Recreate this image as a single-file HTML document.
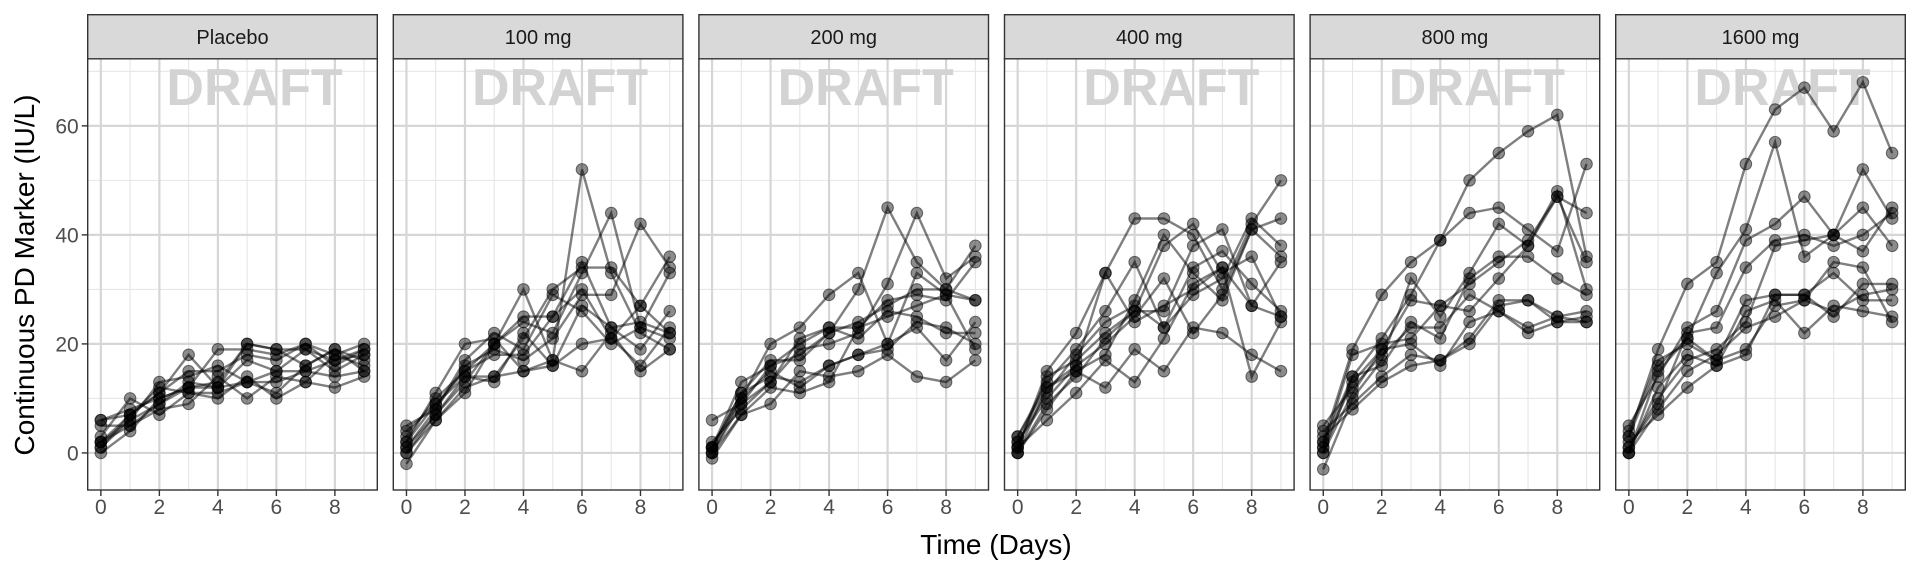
<!DOCTYPE html>
<html><head><meta charset="utf-8"><style>
html,body{margin:0;padding:0;background:#fff;}
svg{display:block;font-family:"Liberation Sans",Arial,sans-serif;}
</style></head><body>
<svg id="chart" width="1920" height="576" viewBox="0 0 1920 576" xmlns="http://www.w3.org/2000/svg">
<rect width="1920" height="576" fill="#fff"/>
<text x="0" y="0" transform="translate(34,275) rotate(-90)" text-anchor="middle" font-size="28" fill="#000">Continuous PD Marker (IU/L)</text>
<text x="996" y="554" text-anchor="middle" font-size="28" fill="#000">Time (Days)</text>
<g id="panels"></g>
</svg>
<script>
const panelNames = ["Placebo","100 mg","200 mg","400 mg","800 mg","1600 mg"];
const times = [0,1,2,3,4,5,6,7,8,9];
const xTicks = [0,2,4,6,8];
const yTicks = [0,20,40,60];
const placebo = [
[2,5,9,12,13,20,19,19,17,18],[6,7,11,18,12,13,15,15,14,15],[0,4,10,12,19,19,18,20,18,20],
[1,6,13,14,16,13,11,16,19,17],[3,10,7,11,10,14,10,13,12,14],[2,7,11,15,15,18,17,20,16,19],
[5,5,8,9,14,10,14,13,18,16],[1,7,12,11,11,13,13,15,17,19],[2,6,9,13,12,17,15,19,15,18],
[6,8,10,12,12,20,19,16,19,15]];
const dose100 = [
[4,9,15,20,30,17,52,33,22,19],[0,7,13,20,24,22,33,44,23,33],[1,8,16,19,17,21,29,29,42,34],
[2,11,20,21,15,16,20,21,16,23],[-2,6,12,14,21,30,34,34,27,22],[3,10,15,18,18,25,35,23,24,22],
[1,7,14,14,15,17,15,22,15,19],[5,8,17,22,19,29,26,20,23,21],[0,6,11,20,25,25,30,21,27,36],
[2,9,14,13,22,16,27,23,19,26]];
const dose200 = [
[6,9,13,19,20,22,31,44,32,36],[1,13,16,18,22,30,45,35,30,38],[-1,7,9,15,14,15,18,14,13,17],
[0,10,20,23,29,33,20,33,29,28],[1,11,17,17,22,24,27,30,30,28],[2,8,13,21,23,21,26,25,22,22],
[1,10,15,12,16,18,19,24,23,20],[0,9,16,20,23,23,28,29,28,35],[1,11,14,13,16,18,20,23,17,24],
[0,7,12,11,13,23,25,27,29,19]];
const dose400 = [
[3,12,16,33,43,43,40,30,42,50],[0,9,14,21,26,38,42,33,36,25],[1,15,22,33,24,27,30,34,27,35],
[2,11,18,24,27,23,34,37,31,26],[0,8,15,12,19,15,23,22,18,15],[3,13,19,26,35,23,29,32,43,38],
[1,6,11,17,13,21,31,34,14,24],[2,10,16,20,25,32,22,29,41,43],[1,14,17,22,26,26,38,41,27,25],
[0,12,15,18,28,40,33,28,41,36]];
const dose800 = [
[2,19,29,35,39,50,55,59,62,36],[0,14,21,29,39,44,45,41,37,53],[-3,10,17,32,25,33,42,38,47,35],
[3,8,13,16,17,20,27,28,25,24],[5,12,18,23,23,29,26,23,25,26],[1,18,20,21,27,31,35,39,47,44],
[0,11,19,20,16,24,26,22,24,25],[2,14,16,24,21,32,36,36,32,29],[4,9,14,18,17,21,28,28,24,24],
[1,13,19,28,27,26,32,38,48,30]];
const dose1600 = [
[3,19,31,35,53,63,67,59,68,55],[0,15,21,33,41,57,36,40,52,43],[5,14,23,26,39,42,47,40,45,38],
[1,9,22,23,34,39,40,38,40,44],[0,12,18,16,18,29,29,25,31,31],[2,7,12,16,26,28,22,27,26,25],
[4,17,20,17,28,29,29,33,28,28],[1,10,17,19,24,38,39,40,37,45],[0,8,15,18,23,25,28,35,34,24],
[3,16,21,17,19,27,28,26,29,30]];
const allData = [placebo,dose100,dose200,dose400,dose800,dose1600];

const NS="http://www.w3.org/2000/svg";
const root=document.getElementById('panels');
const PW=289.6, GAP=16, X0=87.7, TOP=58.8, BOT=490, STRIP_TOP=14.7;
const xMin=-0.45, xMax=9.45, yMin=-6.8, yMax=72.3;
function mk(tag,attrs,parent){const e=document.createElementNS(NS,tag);for(const k in attrs)e.setAttribute(k,attrs[k]);parent.appendChild(e);return e;}

panelNames.forEach((name,pi)=>{
  const left=X0+pi*(PW+GAP), right=left+PW;
  const sx=v=>left+(v-xMin)/(xMax-xMin)*PW;
  const sy=v=>BOT-(v-yMin)/(yMax-yMin)*(BOT-TOP);
  const g=mk('g',{},root);
  
  
  mk('rect',{x:left,y:TOP,width:PW,height:BOT-TOP,fill:'#fff'},g);
  [10,30,50,70].forEach(v=>{mk('line',{x1:left,x2:right,y1:sy(v),y2:sy(v),stroke:'#e6e6e6','stroke-width':1.1},g);});
  [1,3,5,7,9].forEach(v=>{mk('line',{x1:sx(v),x2:sx(v),y1:TOP,y2:BOT,stroke:'#e6e6e6','stroke-width':1.1},g);});
  yTicks.forEach(v=>{const l=mk('line',{x1:left,x2:right,y1:sy(v),y2:sy(v),stroke:'#d6d6d6','stroke-width':2.2},g);
    
    });
  xTicks.forEach(v=>{const l=mk('line',{x1:sx(v),x2:sx(v),y1:TOP,y2:BOT,stroke:'#d6d6d6','stroke-width':2.2},g);
    
    });
  const d=mk('text',{x:(left+right)/2+22,y:105,'text-anchor':'middle','font-size':52,'font-weight':'bold',fill:'#d3d3d3'},g);
  d.textContent='DRAFT';
  
  
  allData[pi].forEach((ser,si)=>{
    const pts=ser.map((v,i)=>sx(times[i]).toFixed(1)+','+sy(v).toFixed(1)).join(' ');
    const pl=mk('polyline',{points:pts,fill:'none',stroke:'#000','stroke-opacity':0.5,'stroke-width':2.4},g);
    
    
    ser.forEach((v,i)=>{
      const c=mk('circle',{cx:sx(times[i]),cy:sy(v),r:5.8,fill:'#000','fill-opacity':0.45,stroke:'#000','stroke-opacity':0.5,'stroke-width':1},g);
      
      
    });
  });
  mk('rect',{x:left,y:TOP,width:PW,height:BOT-TOP,fill:'none',stroke:'#333','stroke-width':1.4},g);
  const s=mk('rect',{x:left,y:STRIP_TOP,width:PW,height:TOP-STRIP_TOP,fill:'#d9d9d9',stroke:'#333','stroke-width':1.4},g);
  
  
  const st=mk('text',{x:(left+right)/2,y:44,'text-anchor':'middle','font-size':20,fill:'#1a1a1a'},g);
  st.textContent=name;
  
  
  xTicks.forEach(v=>{
    mk('line',{x1:sx(v),x2:sx(v),y1:BOT,y2:BOT+6,stroke:'#333','stroke-width':1.4},g);
    const t=mk('text',{x:sx(v),y:514,'text-anchor':'middle','font-size':21,fill:'#4d4d4d'},g);
    t.textContent=v;
    
    
  });
  if(pi===0){
    yTicks.forEach(v=>{
      mk('line',{x1:left-6,x2:left,y1:sy(v),y2:sy(v),stroke:'#333','stroke-width':1.4},g);
      const t=mk('text',{x:left-9,y:sy(v)+7.5,'text-anchor':'end','font-size':21,fill:'#4d4d4d'},g);
      t.textContent=v;
      
      
    });
  }
});
</script>
</body></html>
